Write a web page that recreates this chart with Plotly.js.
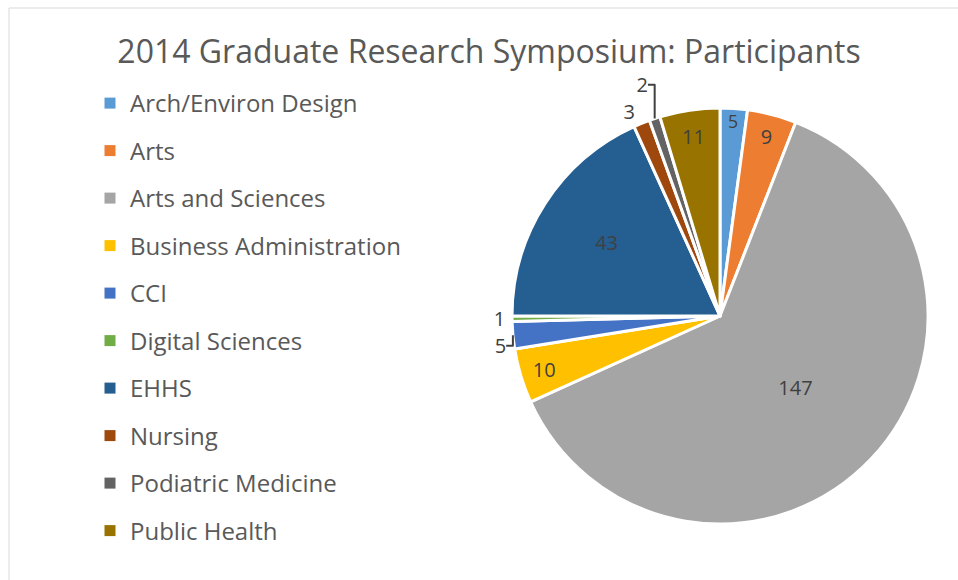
<!DOCTYPE html>
<html>
<head>
<meta charset="utf-8">
<script src="https://cdn.plot.ly/plotly-3.0.1.min.js"></script>
<style>html,body{margin:0;padding:0;background:#fff;}#chart{width:958px;height:580px;}</style>
</head>
<body>
<div id="chart"></div>
<script>
var categories = ["Arch/Environ Design","Arts","Arts and Sciences","Business Administration","CCI","Digital Sciences","EHHS","Nursing","Podiatric Medicine","Public Health"];
var participants = [5, 9, 147, 10, 5, 1, 43, 3, 2, 11];
var colors = ["#5B9BD5","#ED7D31","#A5A5A5","#FFC000","#4472C4","#70AD47","#255E91","#9E480E","#636363","#997300"];
var labelPositions = ["inside","inside","inside","inside","outside","outside","inside","outside","outside","inside"];

var W = 958, H = 580;
var cx = 720, cy = 316, r = 208;

var traces = [{
  type: "pie",
  labels: categories,
  values: participants,
  sort: false,
  direction: "clockwise",
  rotation: 0,
  marker: {colors: colors, line: {color: "#ffffff", width: 3}},
  textinfo: "value",
  textposition: labelPositions,
  insidetextorientation: "horizontal",
  textfont: {family: "Open Sans, sans-serif", size: 20, color: "#404040"},
  outsidetextfont: {family: "Open Sans, sans-serif", size: 20, color: "#404040"},
  hoverinfo: "label+value",
  showlegend: false,
  domain: {x: [(cx - r) / W, (cx + r) / W], y: [(H - cy - r) / H, (H - cy + r) / H]}
}];

categories.forEach(function (c, i) {
  traces.push({
    type: "scatter", mode: "markers", x: [null], y: [null],
    name: c, legendgroup: "g" + i,
    marker: {symbol: "square", size: 11, color: colors[i]},
    hoverinfo: "skip", showlegend: true
  });
});

var layout = {
  width: W, height: H,
  margin: {l: 0, r: 0, t: 0, b: 0},
  paper_bgcolor: "#ffffff", plot_bgcolor: "rgba(0,0,0,0)",
  title: {text: "2014 Graduate Research Symposium: Participants",
          x: 489 / W, xanchor: "center", y: 1 - 52 / H, yanchor: "middle",
          font: {family: "Open Sans, sans-serif", size: 32, color: "#595959"}},
  xaxis: {visible: false, domain: [0, 0.01]},
  yaxis: {visible: false, domain: [0, 0.01]},
  showlegend: true,
  legend: {x: 90 / W, xanchor: "left", y: 1 - 81 / H, yanchor: "top",
           font: {family: "Open Sans, sans-serif", size: 24, color: "#595959"},
           tracegroupgap: 13.3, bgcolor: "rgba(0,0,0,0)", itemclick: false, itemdoubleclick: false},
  shapes: [
    {type: "line", xref: "paper", yref: "paper", x0: 9 / W, x1: 9 / W, y0: 0, y1: 1 - 8 / H, line: {color: "#D9D9D9", width: 1}},
    {type: "line", xref: "paper", yref: "paper", x0: 9 / W, x1: 1, y0: 1 - 8 / H, y1: 1 - 8 / H, line: {color: "#D9D9D9", width: 1}}
  ]
};

Plotly.newPlot("chart", traces, layout, {displayModeBar: false, staticPlot: true});
</script>
</body>
</html>
